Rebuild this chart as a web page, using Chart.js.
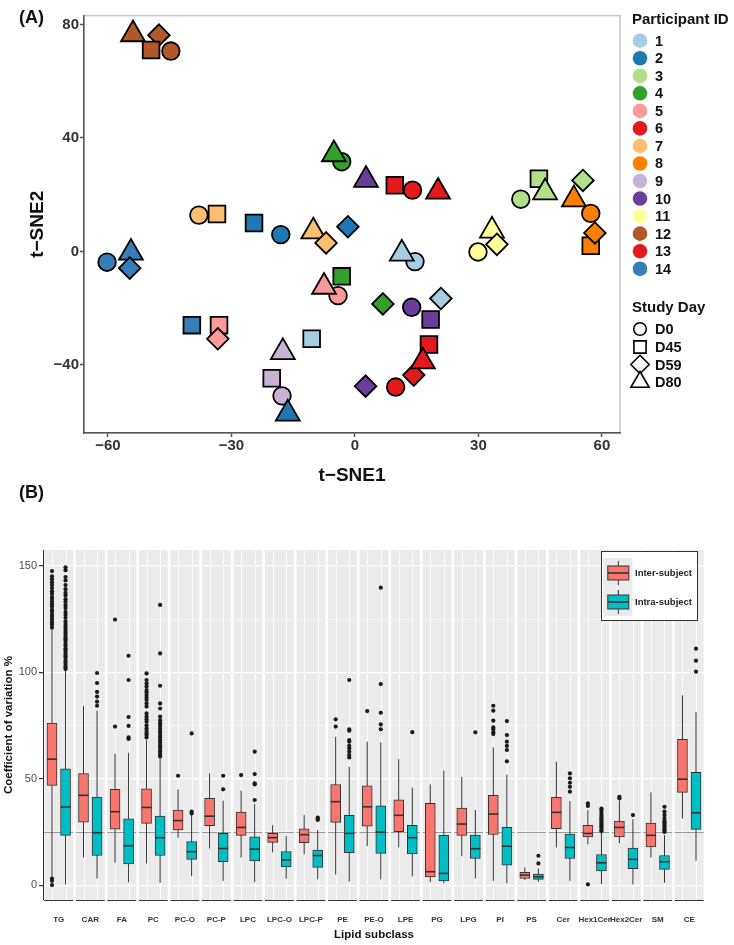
<!DOCTYPE html>
<html>
<head>
<meta charset="utf-8">
<script src="https://cdn.jsdelivr.net/npm/chart.js@4.4.1/dist/chart.umd.min.js"></script>
<style>
body{margin:0;background:#fff;font-family:"Liberation Sans",Arial,sans-serif}
#wrap{position:relative;width:734px;height:945px}
canvas{position:absolute;left:0}
.tag{position:absolute;left:19px;font-weight:bold;font-size:18px;line-height:22px;color:#111}
</style>
</head>
<body>
<div id="wrap">
  <canvas id="tsne" width="734" height="495" style="top:0"></canvas>
  <canvas id="cv" width="734" height="450" style="top:495px"></canvas>
  <div class="tag" style="top:6px">(A)</div>
  <div class="tag" style="top:481px">(B)</div>
</div>
<script>
const F = "'Liberation Sans', Arial, sans-serif";

// ---------- panel A data (t-SNE) ----------
const pidColors = ['#A6CEE3','#1F78B4','#B2DF8A','#33A02C','#FB9A99','#E31A1C','#FDBF6F',
                   '#FF7F00','#CAB2D6','#6A3D9A','#FFFF99','#B15928','#E41A1C','#377EB8'];
const dayNames = ['D0','D45','D59','D80'];
// one entry per sample, listed in drawing order
const sampPid = [12,12,12,12, 7,7,7,7, 2,2,2, 14,14,14,14, 5,5,5,5, 1,1,1,1, 9,9,9, 2,
                 4,4,4,4, 10,10,10,10, 13,13,13, 6,6,6,6, 3,3,3,3, 8,8,8,8, 11,11,11];
const sampDay = ['D80','D59','D45','D0', 'D0','D45','D80','D59', 'D45','D0','D59',
                 'D0','D80','D59','D45', 'D45','D59','D0','D80', 'D45','D0','D80','D59',
                 'D80','D45','D0', 'D80', 'D0','D80','D45','D59', 'D80','D0','D45','D59',
                 'D45','D0','D80', 'D45','D59','D80','D0', 'D0','D45','D80','D59',
                 'D80','D0','D45','D59', 'D80','D59','D0'];
const sneX = [-53.9,-47.6,-49.5,-44.7, -37.9,-33.5,-10.1,-7.0, -24.5,-18.0,-1.7,
              -60.2,-54.4,-54.7,-39.6, -33.0,-33.3,-4.1,-7.5, -10.5,14.6,11.4,20.9,
              -17.5,-20.2,-17.7, -16.3, -3.2,-5.1,-3.2,6.8, 2.7,13.8,18.4,2.6,
              9.7,14.0,20.2, 18.0,14.3,16.5,9.9, 40.3,44.7,46.2,55.4,
              53.2,57.3,57.3,58.3, 33.3,34.5,29.9];
const sneY = [76.5,76.2,71.0,70.6, 12.8,13.2,7.0,3.0, 10.0,5.9,8.7,
              -3.8,-0.5,-5.9,-26.0, -26.0,-30.8,-15.6,-12.5, -30.8,-3.6,-0.8,-16.6,
              -35.5,-44.7,-50.9, -57.2, 31.6,34.2,-8.8,-18.5, 25.2,-19.7,-24.0,-47.5,
              23.3,21.6,21.0, -32.8,-43.6,-38.8,-47.8, 18.4,25.6,20.8,25.0,
              18.3,13.4,2.0,6.5, 7.3,2.5,-0.2];
const xTicksA = [-60,-30,0,30,60];
const yTicksA = [-40,0,40,80];

// ---------- panel B data (CV boxplots) ----------
const subclass = ['TG','CAR','FA','PC','PC-O','PC-P','LPC','LPC-O','LPC-P','PE','PE-O',
                  'LPE','PG','LPG','PI','PS','Cer','Hex1Cer','Hex2Cer','SM','CE'];
const interLo  = [3.9,13,10.5,10.2,22.3,17.2,13,15.4,14.4,5,18.3,17.7,1.4,13.6,2,2.4,17.7,19.1,19.6,13,31.3];
const interQ1  = [46.9,29.6,26.3,29,25.9,27.9,23.4,20.1,19.9,29.5,27.7,25.1,3.8,23.4,23.8,3.1,26.5,22.7,22.7,18,43.6];
const interMed = [59.2,42.2,34.5,36.5,30.3,32.4,27.1,22.3,23.7,39.2,36.8,32.8,6.3,28.7,33.4,4.7,34.2,24.3,27.1,23.4,49.8];
const interQ3  = [76.2,52.4,45,45.3,35.3,40.8,34.3,24.3,26.5,47.3,46.7,40.1,38.4,36.2,42.2,6,41.2,28.1,30.1,29.2,68.5];
const interHi  = [120,84.2,61.8,68.2,45,52.5,44.4,28.2,32.9,69.7,67.4,59.2,47.3,50.9,64.7,8.3,58,35.2,39.7,43.6,89.2];
const interOut = [
  [121,122.4,123.6,124.8,126,127.1,128.5,129.4,130.9,132,133.2,134.6,135.4,136.9,138.1,139.6,141,142.3,143.8,145.1,147.6,3.1,2,0],
  [], [74.5,124.8],
  [69.4,70.5,71.3,72.4,73.7,75.1,76.8,78,79.2,80.7,83.9,85.4,87,88.2,89.3,90.6,91.7,93.3,94.8,96.4,99.5],
  [51.4], [], [51.7], [], [], [74.5,77.9], [81.8], [], [], [],
  [71,71.8,73.2,74.1,77.3,82,84.3],
  [], [], [37.2,38.4,0.3], [40.8,41.5], [], []
];
const intraLo  = [0.3,3.1,1.3,1.1,4.2,2,1.4,3,2.7,1.7,2.7,4.1,0.8,3.1,0.8,1.6,2,0.5,0.3,1.1,11.4];
const intraQ1  = [23.4,13.9,9.9,13.9,12.1,11,11.4,8.6,8.3,15.2,14.9,14.7,2,12.5,9.4,2.7,12.5,6.7,7.7,7.4,26.2];
const intraMed = [36.7,24.6,18.5,22.3,15.7,17.2,16.9,11.8,13.9,24.3,24.9,22.3,5.5,17.1,18.3,3.9,17.7,10.5,12.1,11,34];
const intraQ3  = [54.7,41.4,31.2,32.4,20.4,24.3,22.7,15.8,16.5,32.8,37.3,28.1,23.4,23.5,27.1,5.2,24,14.4,17.4,13.9,53];
const intraHi  = [101,82,62.2,59.6,33.4,39.7,38.1,23,25.9,55.6,67.1,45.8,53.8,35.3,51.9,7.8,39.5,24.6,31,23.5,81.3];
const intraOut = [
  [101.6,102.4,103.5,104.6,105.4,106.7,107.5,108.4,109.6,110.5,111.3,112.6,113.4,114.7,115.5,116.4,117.6,118.5,119.4,
   120.6,121.5,122.7,124,125.6,127.1,128.4,130.2,131.5,133.1,134.4,136.2,137.4,139.1,141,143.2,144.8,148,149.4],
  [84.3,86.2,88.6,90.8,95,99.7],
  [68.7,69.4,74.8,79,96.4,107.8],
  [60.5,61.4,62.6,63.5,64.8,65.7,66.9,68,69.2,70.1,71.5,72.4,73.6,74.8,76.1,77.5,79.2,83,85.4,93.7,108.9,131.7],
  [33.7,34.5,71.3], [45,51.4], [40,47.3,47.8,52.2,62.7], [], [30.6,31.2,31.7],
  [60,61.1,62.7,64.3,65.5,67.4,68.2,72.6,73.2,96.4],
  [73.2,75.5,81,94.5,139.8], [71.9], [], [71.8],
  [58.2,63.5,65.4,67.4,70.5,77.1],
  [10.2,13.8], [43.9,46.2,48.1,50.2,52.5],
  [25.3,26,26.8,27.5,28.3,29,29.8,30.5,31.3,32,33,34,35.2,36],
  [32.9],
  [25,25.8,26.5,27.3,28,28.8,29.5,30.3,31.5,33,34.6,36.8],
  [100.3,105.5,111.1]
];
const yTicksB = [0,25,50,75,100,125,150];

// ---------- styles ----------
const dayShape  = {D0:'circle', D45:'rect', D59:'rectRot', D80:'triangle'};
const dayRadius = {D0:8.8, D45:11.8, D59:10.8, D80:13.8};
const RED = '#F8766D', TEAL = '#00BFC4';
const DODGE = 0.215;

function minus(v){ return v < 0 ? '\u2212' + Math.abs(v) : String(v); }

function shape(ctx, st, x, y, r){
  ctx.beginPath();
  if (st === 'circle') ctx.arc(x, y, r, 0, Math.PI*2);
  else if (st === 'rect') { const s = r*Math.SQRT1_2; ctx.rect(x-s, y-s, 2*s, 2*s); }
  else if (st === 'rectRot') { ctx.moveTo(x, y-r); ctx.lineTo(x+r, y); ctx.lineTo(x, y+r); ctx.lineTo(x-r, y); ctx.closePath(); }
  else { ctx.moveTo(x, y-r); ctx.lineTo(x+r*0.866, y+r*0.5); ctx.lineTo(x-r*0.866, y+r*0.5); ctx.closePath(); }
}

// frame + legends of panel A
const panelA = {
  id: 'panelA',
  beforeDraw(chart){
    const {ctx, chartArea: a} = chart;
    ctx.save();
    ctx.strokeStyle = '#c6c6c6'; ctx.lineWidth = 1.5;
    ctx.strokeRect(a.left, a.top, a.right - a.left, a.bottom - a.top);
    ctx.restore();
  },
  afterDraw(chart){
    const ctx = chart.ctx;
    ctx.save();
    ctx.textBaseline = 'middle'; ctx.textAlign = 'left';
    ctx.fillStyle = '#111';
    ctx.font = 'bold 15px ' + F;
    ctx.fillText('Participant ID', 632, 20);
    ctx.font = 'bold 14.5px ' + F;
    pidColors.forEach((c, k) => {
      const y = 40.7 + k*17.54;
      ctx.fillStyle = c; shape(ctx, 'circle', 640, y, 7.3); ctx.fill();
      ctx.fillStyle = '#111'; ctx.fillText(String(k+1), 655, y + 1);
    });
    ctx.font = 'bold 15px ' + F;
    ctx.fillText('Study Day', 632, 308);
    const ys = [329, 347, 364.5, 382];
    const rs = {D0:6.3, D45:8.6, D59:9.2, D80:10.5};
    ctx.font = 'bold 14.5px ' + F;
    dayNames.forEach((d, k) => {
      ctx.strokeStyle = '#000'; ctx.lineWidth = 1.6; ctx.fillStyle = '#fff';
      shape(ctx, dayShape[d], 640, ys[k], rs[d]); ctx.fill(); ctx.stroke();
      ctx.fillStyle = '#111'; ctx.fillText(d, 655, ys[k] + 1);
    });
    ctx.restore();
  }
};

new Chart(document.getElementById('tsne'), {
  type: 'scatter',
  data: {
    datasets: [{
      data: sneX.map((x, i) => ({x: x, y: sneY[i]})),
      pointStyle: c => dayShape[sampDay[c.dataIndex]],
      pointRadius: c => dayRadius[sampDay[c.dataIndex]],
      backgroundColor: c => pidColors[sampPid[c.dataIndex] - 1],
      borderColor: '#000',
      borderWidth: 1.8
    }]
  },
  options: {
    responsive: false, animation: false, events: [],
    layout: {padding: {left: 26, right: 114, top: 8, bottom: 8}},
    plugins: {legend: {display: false}, tooltip: {enabled: false}},
    scales: {
      x: {
        type: 'linear', min: -65.8, max: 64.4,
        afterBuildTicks: s => { s.ticks = xTicksA.map(v => ({value: v})); },
        afterFit: s => { s.height = 54; },
        grid: {drawOnChartArea: false, tickLength: 4, tickColor: '#555', tickWidth: 1.5},
        border: {color: '#555', width: 1.5},
        ticks: {font: {family: F, size: 15, weight: 'bold'}, color: '#333', padding: 0, callback: v => minus(v)},
        title: {display: true, text: 't\u2212SNE1', font: {family: F, size: 19, weight: 'bold'}, color: '#111', padding: 0}
      },
      y: {
        type: 'linear', min: -64, max: 83.1,
        afterBuildTicks: s => { s.ticks = yTicksA.map(v => ({value: v})); },
        afterFit: s => { s.width = 58; },
        grid: {drawOnChartArea: false, tickLength: 4, tickColor: '#555', tickWidth: 1.5},
        border: {color: '#555', width: 1.5},
        ticks: {font: {family: F, size: 15, weight: 'bold'}, color: '#333', padding: 1, callback: v => minus(v)},
        title: {display: true, text: 't\u2212SNE2', font: {family: F, size: 19, weight: 'bold'}, color: '#111', padding: 0}
      }
    }
  },
  plugins: [panelA]
});

// ---------- panel B ----------
const groups = [
  {off: -DODGE, lo: interLo, med: interMed, hi: interHi},
  {off: DODGE, lo: intraLo, med: intraMed, hi: intraHi}
];

const panelB = {
  id: 'panelB',
  beforeDraw(chart){
    const {ctx, chartArea: a, scales: {x}} = chart;
    const w = x.getPixelForValue(1) - x.getPixelForValue(0), gap = 2.6;
    ctx.save();
    ctx.fillStyle = '#EBEBEB';
    subclass.forEach((s, i) => {
      const c = x.getPixelForValue(i);
      ctx.fillRect(c - w/2 + gap/2, a.top, w - gap, a.bottom - a.top);
    });
    ctx.restore();
  },
  beforeDatasetsDraw(chart){
    const {ctx, chartArea: a, scales: {x, y}} = chart;
    const w = x.getPixelForValue(1) - x.getPixelForValue(0), gap = 2.6;
    ctx.save();
    // vertical grid at box positions
    ctx.strokeStyle = '#fff'; ctx.lineWidth = 0.9;
    subclass.forEach((s, i) => {
      groups.forEach(g => {
        const px = Math.round(x.getPixelForValue(i + g.off)) + 0.5;
        ctx.beginPath(); ctx.moveTo(px, a.top); ctx.lineTo(px, a.bottom); ctx.stroke();
      });
    });
    // reference line at 25 % and x-axis line under each facet
    const y25 = Math.round(y.getPixelForValue(25)) + 0.5;
    subclass.forEach((s, i) => {
      const c = x.getPixelForValue(i);
      ctx.strokeStyle = 'rgba(100,100,100,0.6)'; ctx.lineWidth = 1;
      ctx.beginPath(); ctx.moveTo(c - w/2 + gap/2, y25); ctx.lineTo(c + w/2 - gap/2, y25); ctx.stroke();
      ctx.strokeStyle = '#333'; ctx.lineWidth = 1;
      ctx.beginPath(); ctx.moveTo(c - w/2 + gap/2, a.bottom + 0.5); ctx.lineTo(c + w/2 - gap/2, a.bottom + 0.5); ctx.stroke();
    });
    // whiskers
    ctx.strokeStyle = '#333'; ctx.lineWidth = 1;
    groups.forEach(g => {
      subclass.forEach((s, i) => {
        const px = x.getPixelForValue(i + g.off);
        ctx.beginPath();
        ctx.moveTo(px, y.getPixelForValue(g.lo[i]));
        ctx.lineTo(px, y.getPixelForValue(g.hi[i]));
        ctx.stroke();
      });
    });
    ctx.restore();
  },
  afterDatasetsDraw(chart){
    const {ctx, chartArea: a, scales: {x, y}} = chart;
    ctx.save();
    ctx.strokeStyle = '#333'; ctx.lineWidth = 1.6;
    groups.forEach(g => {
      subclass.forEach((s, i) => {
        const px = x.getPixelForValue(i + g.off), py = y.getPixelForValue(g.med[i]);
        ctx.beginPath(); ctx.moveTo(px - 5, py); ctx.lineTo(px + 5, py); ctx.stroke();
      });
    });
    // legend box
    const x0 = a.right - 104, y0 = a.top + 1, bw = 96, bh = 69;
    ctx.fillStyle = '#fff'; ctx.fillRect(x0, y0, bw, bh);
    ctx.strokeStyle = '#333'; ctx.lineWidth = 1;
    ctx.strokeRect(x0 + 0.5, y0 + 0.5, bw, bh);
    [['Inter-subject', RED], ['Intra-subject', TEAL]].forEach(([lab, col], k) => {
      const ky = y0 + 7 + k*29;
      ctx.fillStyle = '#EBEBEB'; ctx.fillRect(x0 + 2.3, ky, 29, 29);
      const cx = x0 + 17.3, cy = ky + 15;
      ctx.strokeStyle = '#333'; ctx.lineWidth = 1;
      ctx.beginPath(); ctx.moveTo(cx, ky + 3); ctx.lineTo(cx, ky + 27); ctx.stroke();
      ctx.fillStyle = col; ctx.fillRect(cx - 10.5, cy - 7, 21, 14);
      ctx.strokeRect(cx - 10.5, cy - 7, 21, 14);
      ctx.lineWidth = 1.6;
      ctx.beginPath(); ctx.moveTo(cx - 10.5, cy); ctx.lineTo(cx + 10.5, cy); ctx.stroke();
      ctx.fillStyle = '#222'; ctx.font = 'bold 9.5px ' + F;
      ctx.textBaseline = 'middle'; ctx.textAlign = 'left';
      ctx.fillText(lab, x0 + 34, cy);
    });
    ctx.restore();
  }
};

function boxes(q1, q3, off){
  return subclass.map((s, i) => ({x: i + off, y: [q1[i], q3[i]]}));
}
function outliers(out, off){
  const pts = [];
  out.forEach((vals, i) => vals.forEach(v => pts.push({x: i + off, y: v})));
  return pts;
}

new Chart(document.getElementById('cv'), {
  type: 'bar',
  data: {
    datasets: [
      {label: 'Inter-subject', data: boxes(interQ1, interQ3, -DODGE), backgroundColor: RED,
       borderColor: '#333', borderWidth: 1, borderSkipped: false, grouped: false, barThickness: 10, maxBarThickness: 10},
      {label: 'Intra-subject', data: boxes(intraQ1, intraQ3, DODGE), backgroundColor: TEAL,
       borderColor: '#333', borderWidth: 1, borderSkipped: false, grouped: false, barThickness: 10, maxBarThickness: 10},
      {type: 'scatter', data: outliers(interOut, -DODGE), pointRadius: 2.1, backgroundColor: '#1a1a1a', borderWidth: 0},
      {type: 'scatter', data: outliers(intraOut, DODGE), pointRadius: 2.1, backgroundColor: '#1a1a1a', borderWidth: 0}
    ]
  },
  options: {
    responsive: false, animation: false, events: [],
    layout: {padding: {left: 2, right: 29, top: 55, bottom: 0}},
    plugins: {legend: {display: false}, tooltip: {enabled: false}},
    scales: {
      x: {
        type: 'linear', min: -0.5, max: 20.5, offset: false,
        afterBuildTicks: s => { s.ticks = subclass.map((c, i) => ({value: i})); },
        afterFit: s => { s.height = 45; },
        grid: {display: false},
        border: {display: false},
        ticks: {autoSkip: false, maxRotation: 0, font: {family: F, size: 8, weight: 'bold'}, color: '#333', padding: 7,
                callback: v => subclass[v]},
        title: {display: true, text: 'Lipid subclass', font: {family: F, size: 11.5, weight: 'bold'}, color: '#111',
                padding: {top: 4, bottom: 3}}
      },
      y: {
        type: 'linear', min: -7, max: 157.5,
        afterBuildTicks: s => { s.ticks = yTicksB.map(v => ({value: v})); },
        afterFit: s => { s.width = 41; },
        grid: {color: '#fff', lineWidth: c => (c.tick && c.tick.value % 50 === 0) ? 1.2 : 0.5,
               tickColor: c => (c.tick && c.tick.value % 50 === 0) ? '#333' : 'rgba(0,0,0,0)', tickLength: 4},
        border: {color: '#333', width: 1},
        ticks: {font: {family: F, size: 11}, color: '#4d4d4d', padding: 2,
                callback: v => (v % 50 === 0 ? String(v) : '')},
        title: {display: true, text: 'Coefficient of variation %', font: {family: F, size: 11.5, weight: 'bold'},
                color: '#111', padding: 0}
      }
    }
  },
  plugins: [panelB]
});
</script>
</body>
</html>
